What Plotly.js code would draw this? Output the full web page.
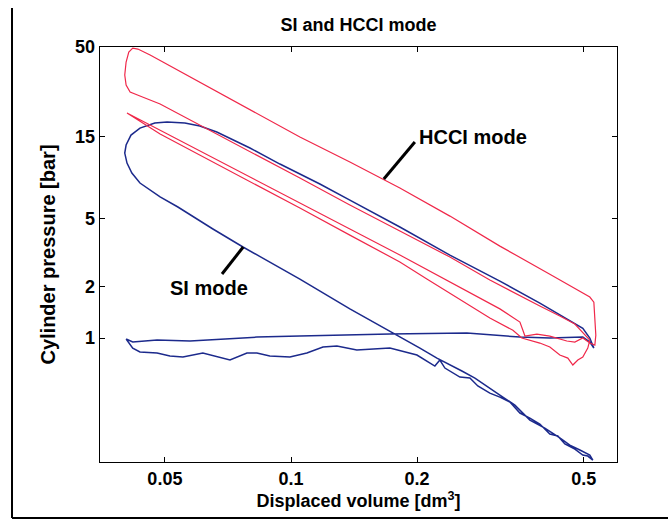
<!DOCTYPE html>
<html>
<head>
<meta charset="utf-8">
<script src="https://cdn.plot.ly/plotly-3.0.1.min.js"></script>
<style>html,body{margin:0;padding:0;background:#fff;}#chart{width:668px;height:521px;}</style>
</head>
<body>
<div id="chart"></div>
<script>
// SI mode p-V loop (displaced volume dm^3, cylinder pressure bar)
const siVolume = [0.0404,0.0419,0.0436,0.0479,0.0514,0.0552,0.0616,0.0665,0.0715,0.0785,0.0829,0.0890,0.0994,0.1091,0.1192,0.1287,0.1436,0.1722,0.1998,0.2205,0.2266,0.2330,0.2530,0.2673,0.2792,0.2983,0.3152,0.3330,0.3519,0.3717,0.3926,0.4148,0.4334,0.4505,0.4759,0.4972,0.5110,0.5254,
  0.5167,0.4892,0.4630,0.4382,0.4035,0.3717,0.3423,0.3152,0.2950,0.2748,0.2558,0.2395,0.2230,0.2031,0.1819,0.1382,0.1050,0.0768,0.0651,0.0537,0.0487,0.0461,0.0436,0.0417,0.0406,0.0401,0.0404,0.0415,0.0436,0.0473,0.0506,0.0558,0.0606,0.0665,0.0798,0.0941,0.1172,0.1382,0.1819,0.2395,0.3152,0.3926,0.4630,0.4972,0.5167,0.5283,
  0.5167,0.4972,0.4148,0.3519,0.2629,0.1722,0.1050,0.0829,0.0574,0.0479,0.0419,0.0404];
const siPressure = [0.987,0.874,0.829,0.818,0.785,0.775,0.818,0.775,0.744,0.818,0.818,0.785,0.775,0.818,0.886,0.898,0.851,0.874,0.796,0.686,0.744,0.668,0.592,0.584,0.525,0.477,0.452,0.423,0.365,0.341,0.315,0.275,0.268,0.241,0.225,0.2075,0.2047,0.194,
  0.2075,0.222,0.237,0.261,0.298,0.332,0.406,0.465,0.518,0.584,0.642,0.696,0.764,0.874,1.013,1.48,2.21,3.40,4.33,5.82,6.66,7.31,8.03,9.19,10.51,12.02,13.39,15.31,16.82,17.99,18.24,17.99,17.28,15.94,12.86,10.37,7.93,6.39,4.45,3.05,2.15,1.60,1.27,1.14,1.0,0.874,
  0.948,1.013,1.0,1.013,1.07,1.055,1.027,1.013,0.961,0.973,0.948,0.987];

// HCCI mode p-V loop (main loop + recompression loop)
const hcciVolume = [0.5167,0.4972,0.4759,0.4382,0.3926,0.2983,0.2395,0.1819,0.1382,0.1050,0.0843,0.0665,0.0574,0.0487,0.0436,0.0413,0.0404,0.0401,0.0404,0.0410,0.0419,0.0431,0.0461,0.0606,0.0798,0.1050,0.1382,0.1819,0.2395,0.3152,0.4148,0.4945,0.5167,0.5283,0.5312,0.5341,0.5312,
  0.5167,0.4972,0.4759,0.4554,0.4148,0.3863,0.3617,0.3577,0.3519,
  0.3152,0.2355,0.1819,0.1382,0.1050,0.0798,0.0606,0.0487,0.0406,
  0.0487,0.0606,0.0798,0.1050,0.1382,0.1819,0.2110,0.2530,0.2983,0.3386,0.3557,0.3926,0.4148,0.4382,0.4579,0.4707,0.4838,0.4972,0.5110,0.5167];
const hcciPressure = [0.973,1.08,1.207,1.344,1.538,2.18,2.971,4.213,5.98,8.59,11.39,15.52,18.73,23.23,25.86,27.30,29.99,34.30,40.86,46.73,49.3,48.65,44.88,31.22,21.43,14.91,10.65,7.51,5.15,3.44,2.36,1.83,1.735,1.62,1.27,1.04,0.910,
  0.935,1.0,0.948,0.961,1.027,1.055,1.027,1.11,1.24,
  1.48,2.18,3.05,4.33,6.14,8.71,12.35,16.16,20.58,
  15.52,11.71,8.25,5.74,3.99,2.78,2.21,1.69,1.31,1.11,1.0,0.935,0.886,0.796,0.764,0.696,0.744,0.775,0.874,0.973];

const xTickVals = [0.05, 0.1, 0.2, 0.5];
const xTickText = ['0.05', '0.1', '0.2', '0.5'];
const yTickVals = [1, 2, 5, 15, 50];
const yTickText = ['1', '2', '5', '15', '50'];

const FONT = 'Liberation Sans, Arial, Helvetica, sans-serif';

const traces = [
  {x: siVolume, y: siPressure, mode: 'lines', name: 'SI mode',
   line: {color: '#1c2a8c', width: 1.5}},
  {x: hcciVolume, y: hcciPressure, mode: 'lines', name: 'HCCI mode',
   line: {color: '#f0284a', width: 1.2}}
];

const axisCommon = {
  showgrid: false, zeroline: false, showline: true, linecolor: '#000', linewidth: 1.3,
  mirror: 'ticks', ticks: 'inside', ticklen: 5, tickwidth: 1, tickcolor: '#000',
  tickfont: {family: FONT, size: 18, color: '#000', weight: 'bold'}
};

const layout = {
  width: 668, height: 521,
  margin: {l: 100, r: 51, t: 47, b: 59},
  paper_bgcolor: '#fff', plot_bgcolor: '#fff',
  showlegend: false,
  font: {family: FONT, color: '#000'},
  title: {text: 'SI and HCCI mode', x: 0.5, xref: 'paper', y: 0.952, yref: 'container', yanchor: 'middle',
          font: {family: FONT, size: 18, color: '#000', weight: 'bold'}},
  xaxis: Object.assign({}, axisCommon, {
    type: 'log', range: [Math.log10(0.035), Math.log10(0.6)],
    tickvals: xTickVals, ticktext: xTickText,
    title: {text: 'Displaced volume [dm<sup>3</sup>]', standoff: 1,
            font: {family: FONT, size: 18, color: '#000', weight: 'bold'}}
  }),
  yaxis: Object.assign({}, axisCommon, {
    type: 'log', range: [Math.log10(0.189), Math.log10(50)],
    tickvals: yTickVals, ticktext: yTickText,
    title: {text: 'Cylinder pressure [bar]', standoff: 14,
            font: {family: FONT, size: 20, color: '#000', weight: 'bold'}}
  }),
  shapes: [
    {type: 'line', xref: 'paper', yref: 'paper', x0: -0.1702, x1: -0.1702, y0: 1.094, y1: -0.1349, line: {color: '#000', width: 2}},
    {type: 'line', xref: 'paper', yref: 'paper', x0: -0.1702, x1: 1.1, y0: -0.1349, y1: -0.1349, line: {color: '#000', width: 2}},
    {type: 'line', xref: 'paper', yref: 'paper', x0: 0.609, y0: 0.771, x1: 0.549, y1: 0.682, line: {color: '#000', width: 3}},
    {type: 'line', xref: 'paper', yref: 'paper', x0: 0.277, y0: 0.518, x1: 0.236, y1: 0.453, line: {color: '#000', width: 3}}
  ],
  annotations: [
    {text: 'HCCI mode', xref: 'paper', yref: 'paper', x: 0.721, y: 0.783, showarrow: false,
     xanchor: 'center', yanchor: 'middle', font: {family: FONT, size: 20, color: '#000', weight: 'bold'}},
    {text: 'SI mode', xref: 'paper', yref: 'paper', x: 0.211, y: 0.419, showarrow: false,
     xanchor: 'center', yanchor: 'middle', font: {family: FONT, size: 20, color: '#000', weight: 'bold'}}
  ]
};

Plotly.newPlot('chart', traces, layout, {displayModeBar: false, staticPlot: true});
</script>
</body>
</html>
